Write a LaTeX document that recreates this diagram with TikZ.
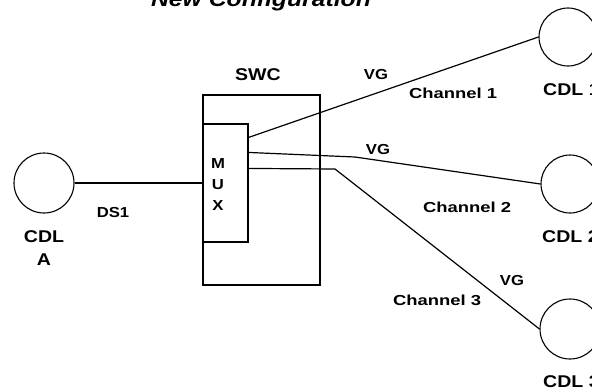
\documentclass[tikz,border=0pt]{standalone}
\usepackage{fontspec}
\setmainfont{Liberation Sans}[FakeStretch=1.15]
\newfontfamily\widefont{Liberation Sans}[FakeStretch=1.27]
\begin{document}
\begin{tikzpicture}[x=1pt,y=-1pt,
  wire/.style={line width=1.2pt},
  cdl/.style={draw,circle,line width=1.1pt,inner sep=0pt},
  box/.style={draw,line width=1.1pt,inner sep=0pt},
  lbl/.style={font=\bfseries\fontsize{17}{19}\selectfont,inner sep=0pt},
  small/.style={font=\bfseries\fontsize{14.5}{21}\selectfont,inner sep=0pt,align=center},
  chan/.style={font=\widefont\bfseries\fontsize{14.5}{17}\selectfont,inner sep=0pt}]
\useasboundingbox (0,0) rectangle (592,391);
% title
\node[font=\bfseries\itshape\fontsize{21.5}{24}\selectfont,anchor=base,inner sep=0pt] (title) at (261,6.5) {New Configuration};
% boxes
\node[box,minimum width=117,minimum height=190] (swc) at (261.5,190) {};
\node[box,minimum width=45,minimum height=118] (mux) at (225.5,183) {};
\node[small] (muxtxt) at (218,185) {M\\U\\X};
% circles
\node[cdl,minimum size=60] (A) at (44,183) {};
\node[cdl,minimum size=58] (c1) at (568,37) {};
\node[cdl,minimum size=58] (c2) at (570,184) {};
\node[cdl,minimum size=60] (c3) at (570,329) {};
% connectors
\draw[wire] (A.east) -- (A.east -| mux.west);
\draw[wire] ([yshift=-14pt]mux.north east) -- (c1.west);
\draw[wire] ([yshift=-29pt]mux.north east) -- (355,157) -- (c2.west);
\draw[wire] ([yshift=-45pt]mux.north east) -- (335,169) -- (c3.west);
% labels
\node[lbl] (swclbl) at (258,75) {SWC};
\node[small] (vg1) at (376,75) {VG};
\node[chan] (ch1) at (453,93) {Channel 1};
\node[small] (vg2) at (378,150) {VG};
\node[chan] (ch2) at (467,207) {Channel 2};
\node[small] (vg3) at (512,281) {VG};
\node[chan] (ch3) at (437,300) {Channel 3};
\node[small] (ds1) at (113,212.5) {DS1};
\node[lbl,align=center,font=\bfseries\fontsize{17}{23}\selectfont] (cdla) at (44,248.5) {CDL\\A};
\node[lbl,anchor=west] (cdl1) at (543,90) {CDL 1};
\node[lbl,anchor=west] (cdl2) at (542,237) {CDL 2};
\node[lbl,anchor=west] (cdl3) at (543,382) {CDL 3};
\end{tikzpicture}
\end{document}
